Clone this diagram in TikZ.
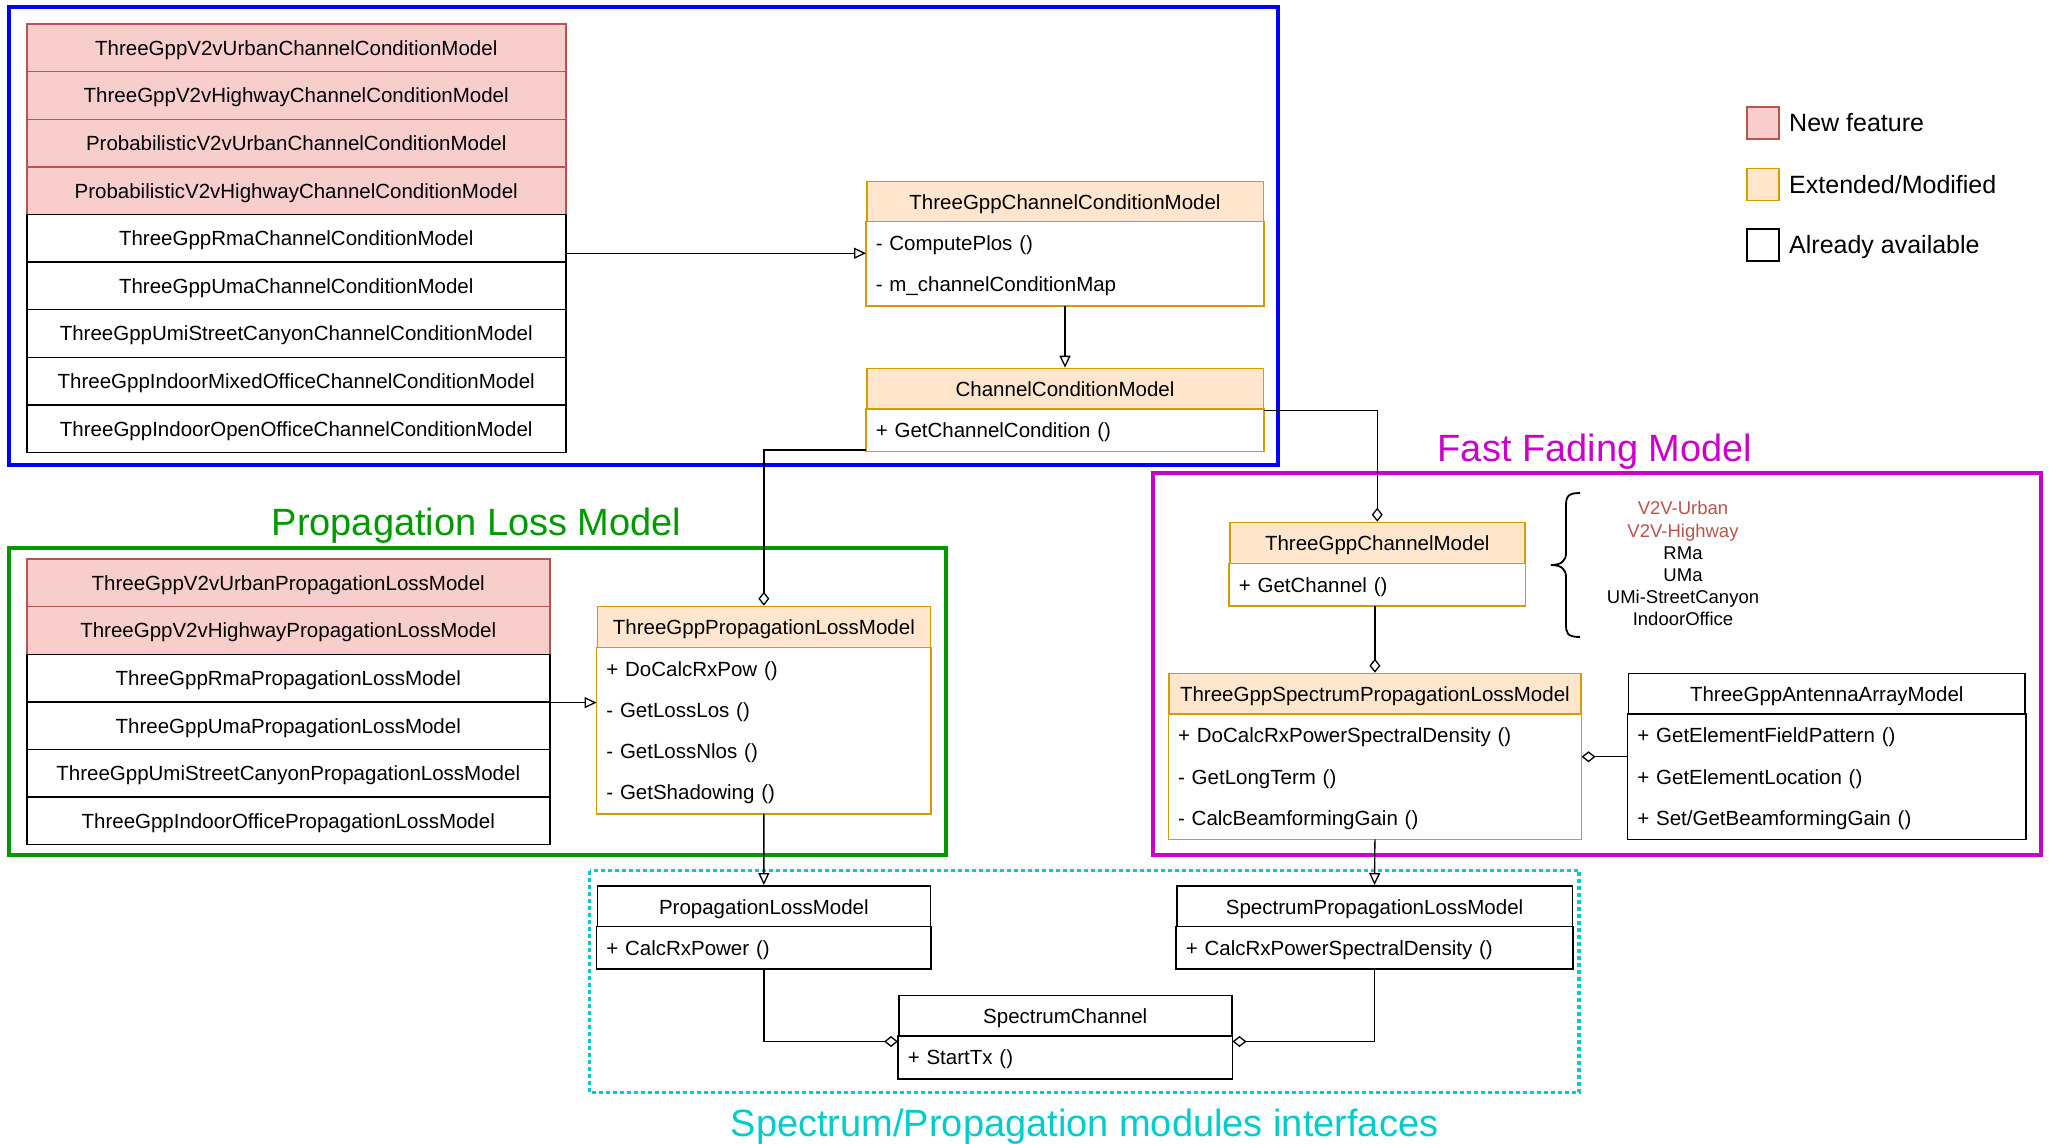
\documentclass[tikz,border=0pt]{standalone}
\usepackage{fontspec}
\setmainfont{Liberation Sans}
\usetikzlibrary{arrows.meta}

\definecolor{newbg}{HTML}{F8CECC}
\definecolor{newbd}{HTML}{B85450}
\definecolor{modbg}{HTML}{FFE6CC}
\definecolor{modbd}{HTML}{D79B00}
\definecolor{frblue}{HTML}{0000FF}
\definecolor{frgreen}{HTML}{009900}
\definecolor{frmag}{HTML}{CC00CC}
\definecolor{frcyan}{HTML}{00CCCC}

\newcommand\boxfont{\fontsize{20.5}{24}\selectfont}
\newcommand\titlefont{\fontsize{38}{44}\selectfont}
\newcommand\legfont{\fontsize{25}{30}\selectfont}
\newcommand\scenfont{\fontsize{18.5}{22}\selectfont}

\begin{document}
\begin{tikzpicture}[x=1pt, y=-1pt,
  cell/.style={draw, line width=1.5pt, inner sep=0pt, anchor=north west,
    font=\boxfont, text height=19pt, text depth=4pt},
  head/.style={cell, align=center},
  memb/.style={cell, draw=none, fill=white, inner xsep=9pt, align=left},
  newrow/.style={head, draw=newbd, fill=newbg},
  oldrow/.style={head, draw=black, fill=white},
  modhead/.style={head, draw=modbd, fill=modbg},
  oldhead/.style={head, draw=black, fill=white},
  modcomp/.style={line width=1.5pt, draw=modbd},
  oldcomp/.style={line width=1.5pt, draw=black},
  frame/.style={line width=4pt},
  title/.style={font=\titlefont, inner sep=0pt, anchor=base},
  legbox/.style={line width=1.5pt, minimum size=32pt, inner sep=0pt, anchor=north west},
  legtext/.style={font=\legfont, inner sep=0pt, anchor=base west},
  scen/.style={font=\scenfont, inner sep=0pt, anchor=base},
  gen/.style={line width=1.3pt, -{Triangle[open, length=12pt, width=11pt]}},
  agg/.style={line width=1.3pt, -{Diamond[open, length=14pt, width=11pt]}}]

\useasboundingbox (0,0) rectangle (2049,1143);
\fill[white] (0,0) rectangle (2049,1143);

% group frames
\draw[frame, draw=frblue] (9,7) rectangle (1278,465);
\draw[frame, draw=frgreen] (9,547.7) rectangle (946,855);
\draw[frame, draw=frmag] (1153,473.3) rectangle (2040.5,855);
\draw[line width=3.5pt, draw=frcyan, dash pattern=on 4pt off 3pt] (589.5,870.7) rectangle (1579,1092.7);

% group titles
\node[title, text=frgreen] (pltitle) at (476.6,535) {Propagation Loss Model};
\node[title, text=frmag] (fftitle) at (1595,461.7) {Fast Fading Model};
\node[title, text=frcyan] (iftitle) at (1084.5,1136.7) {Spectrum/Propagation modules interfaces};

% channel condition model implementations
\node[newrow, minimum width=539pt, minimum height=47.6pt] (cc1) at (26,23.3) {ThreeGppV2vUrbanChannelConditionModel};
\node[newrow, minimum width=539pt, minimum height=47.6pt] (cc2) at (26,70.9) {ThreeGppV2vHighwayChannelConditionModel};
\node[newrow, minimum width=539pt, minimum height=47.6pt] (cc3) at (26,118.5) {ProbabilisticV2vUrbanChannelConditionModel};
\node[newrow, minimum width=539pt, minimum height=47.6pt] (cc4) at (26,166.1) {ProbabilisticV2vHighwayChannelConditionModel};
\node[oldrow, minimum width=539pt, minimum height=47.6pt] (cc5) at (26,213.7) {ThreeGppRmaChannelConditionModel};
\node[oldrow, minimum width=539pt, minimum height=47.6pt] (cc6) at (26,261.3) {ThreeGppUmaChannelConditionModel};
\node[oldrow, minimum width=539pt, minimum height=47.6pt] (cc7) at (26,308.9) {ThreeGppUmiStreetCanyonChannelConditionModel};
\node[oldrow, minimum width=539pt, minimum height=47.6pt] (cc8) at (26,356.5) {ThreeGppIndoorMixedOfficeChannelConditionModel};
\node[oldrow, minimum width=539pt, minimum height=47.6pt] (cc9) at (26,404.1) {ThreeGppIndoorOpenOfficeChannelConditionModel};

% ThreeGppChannelConditionModel
\node[modhead, minimum width=396.5pt, minimum height=41pt] (tccmh) at (866,180.7) {ThreeGppChannelConditionModel};
\node[memb, text width=378.5pt, minimum height=41.3pt] (tccm1) at (866,221.7) {- ComputePlos ()};
\node[memb, text width=378.5pt, minimum height=41.3pt] (tccm2) at (866,263) {- m\_channelConditionMap};
\draw[modcomp] (tccm1.north west) rectangle (tccm2.south east);

% ChannelConditionModel
\node[modhead, minimum width=396.5pt, minimum height=41.3pt] (ccmh) at (866,367.7) {ChannelConditionModel};
\node[memb, text width=378.5pt, minimum height=41pt] (ccm1) at (866,409) {+ GetChannelCondition ()};
\draw[modcomp] (ccm1.north west) rectangle (ccm1.south east);

% propagation loss model implementations
\node[newrow, minimum width=523pt, minimum height=47.6pt] (pl1) at (26,558.3) {ThreeGppV2vUrbanPropagationLossModel};
\node[newrow, minimum width=523pt, minimum height=47.6pt] (pl2) at (26,605.9) {ThreeGppV2vHighwayPropagationLossModel};
\node[oldrow, minimum width=523pt, minimum height=47.6pt] (pl3) at (26,653.5) {ThreeGppRmaPropagationLossModel};
\node[oldrow, minimum width=523pt, minimum height=47.6pt] (pl4) at (26,701.1) {ThreeGppUmaPropagationLossModel};
\node[oldrow, minimum width=523pt, minimum height=47.6pt] (pl5) at (26,748.7) {ThreeGppUmiStreetCanyonPropagationLossModel};
\node[oldrow, minimum width=523pt, minimum height=47.6pt] (pl6) at (26,796.3) {ThreeGppIndoorOfficePropagationLossModel};

% ThreeGppPropagationLossModel
\node[modhead, minimum width=333pt, minimum height=41.6pt] (tplh) at (596.6,605.7) {ThreeGppPropagationLossModel};
\node[memb, text width=315pt, minimum height=41.25pt] (tpl1) at (596.6,647.3) {+ DoCalcRxPow ()};
\node[memb, text width=315pt, minimum height=41.25pt] (tpl2) at (596.6,688.55) {- GetLossLos ()};
\node[memb, text width=315pt, minimum height=41.25pt] (tpl3) at (596.6,729.8) {- GetLossNlos ()};
\node[memb, text width=315pt, minimum height=41.25pt] (tpl4) at (596.6,771.05) {- GetShadowing ()};
\draw[modcomp] (tpl1.north west) rectangle (tpl4.south east);

% ThreeGppChannelModel
\node[modhead, minimum width=295pt, minimum height=41.6pt] (tchmh) at (1229,521.7) {ThreeGppChannelModel};
\node[memb, text width=277pt, minimum height=41pt] (tchm1) at (1229,563.3) {+ GetChannel ()};
\draw[modcomp] (tchm1.north west) rectangle (tchm1.south east);

% supported scenarios
\draw[line width=1.8pt] (1580,493) .. controls (1567,493) and (1566,497) .. (1566,507)
  -- (1566,553) .. controls (1566,561) and (1561,565) .. (1551,565)
  .. controls (1561,565) and (1566,569) .. (1566,577)
  -- (1566,624) .. controls (1566,633) and (1567,637) .. (1580,637);
\node[scen, text=newbd] (sc1) at (1683,514.9) {V2V-Urban};
\node[scen, text=newbd] (sc2) at (1683,537.1) {V2V-Highway};
\node[scen] (sc3) at (1683,559.3) {RMa};
\node[scen] (sc4) at (1683,581.5) {UMa};
\node[scen] (sc5) at (1683,603.7) {UMi-StreetCanyon};
\node[scen] (sc6) at (1683,625.9) {IndoorOffice};

% ThreeGppSpectrumPropagationLossModel
\node[modhead, minimum width=411.7pt, minimum height=41.3pt] (tsplh) at (1168.3,672.7) {ThreeGppSpectrumPropagationLossModel};
\node[memb, text width=393.7pt, minimum height=41.25pt] (tspl1) at (1168.3,714) {+ DoCalcRxPowerSpectralDensity ()};
\node[memb, text width=393.7pt, minimum height=41.25pt] (tspl2) at (1168.3,755.25) {- GetLongTerm ()};
\node[memb, text width=393.7pt, minimum height=41.25pt] (tspl3) at (1168.3,796.5) {- CalcBeamformingGain ()};
\draw[modcomp] (tspl1.north west) rectangle (tspl3.south east);

% ThreeGppAntennaArrayModel
\node[oldhead, minimum width=396.8pt, minimum height=41.3pt] (taah) at (1627.6,672.7) {ThreeGppAntennaArrayModel};
\node[memb, text width=378.8pt, minimum height=41.25pt] (taa1) at (1627.6,714) {+ GetElementFieldPattern ()};
\node[memb, text width=378.8pt, minimum height=41.25pt] (taa2) at (1627.6,755.25) {+ GetElementLocation ()};
\node[memb, text width=378.8pt, minimum height=41.25pt] (taa3) at (1627.6,796.5) {+ Set/GetBeamformingGain ()};
\draw[oldcomp] (taa1.north west) rectangle (taa3.south east);

% interfaces
\node[oldhead, minimum width=333.2pt, minimum height=41.7pt] (plmh) at (596.5,885) {PropagationLossModel};
\node[memb, text width=315.2pt, minimum height=41pt] (plm1) at (596.5,926.7) {+ CalcRxPower ()};
\draw[oldcomp] (plm1.north west) rectangle (plm1.south east);
\node[oldhead, minimum width=395.6pt, minimum height=41.7pt] (splmh) at (1176,885) {SpectrumPropagationLossModel};
\node[memb, text width=377.6pt, minimum height=41pt] (splm1) at (1176,926.7) {+ CalcRxPowerSpectralDensity ()};
\draw[oldcomp] (splm1.north west) rectangle (splm1.south east);
\node[oldhead, minimum width=333pt, minimum height=41.3pt] (sch) at (898,994.7) {SpectrumChannel};
\node[memb, text width=315pt, minimum height=41.3pt] (sc1m) at (898,1036) {+ StartTx ()};
\draw[oldcomp] (sc1m.north west) rectangle (sc1m.south east);

% legend
\node[legbox, draw=newbd, fill=newbg] (lgnew) at (1746,106) {};
\node[legbox, draw=modbd, fill=modbg] (lgmod) at (1746,167.7) {};
\node[legbox, draw=black, fill=white] (lgold) at (1746,228) {};
\node[legtext] (lgnewt) at (1789,131) {New feature};
\node[legtext] (lgmodt) at (1789,193) {Extended/Modified};
\node[legtext] (lgoldt) at (1789,253) {Already available};

% relations
\draw[gen] ([yshift=-15pt]cc5.east) -- ([yshift=-15pt]cc5.east -| tccm1.west);
\draw[gen] (tccm2.south) -- (ccmh.north);
\draw[agg] ([yshift=1.5pt]ccm1.south west) -| (tplh.north);
\draw[agg] (ccmh.south east) -| (tchmh.north);
\draw[gen] (pl3.south east) -- (pl3.south east -| tpl2.west);
\draw[gen] (tpl4.south) -- (plmh.north);
\draw[agg] (tsplh.north |- tchm1.south) -- (tsplh.north);
\draw[agg] (taa1.south west) -- (taa1.south west -| tspl1.south east);
\draw[gen] (tspl3.south) -- (splmh.north);
\draw[agg] (plm1.south) |- ([yshift=-4pt]sch.south west);
\draw[agg] (splm1.south) |- ([yshift=-4pt]sch.south east);

\end{tikzpicture}
\end{document}
